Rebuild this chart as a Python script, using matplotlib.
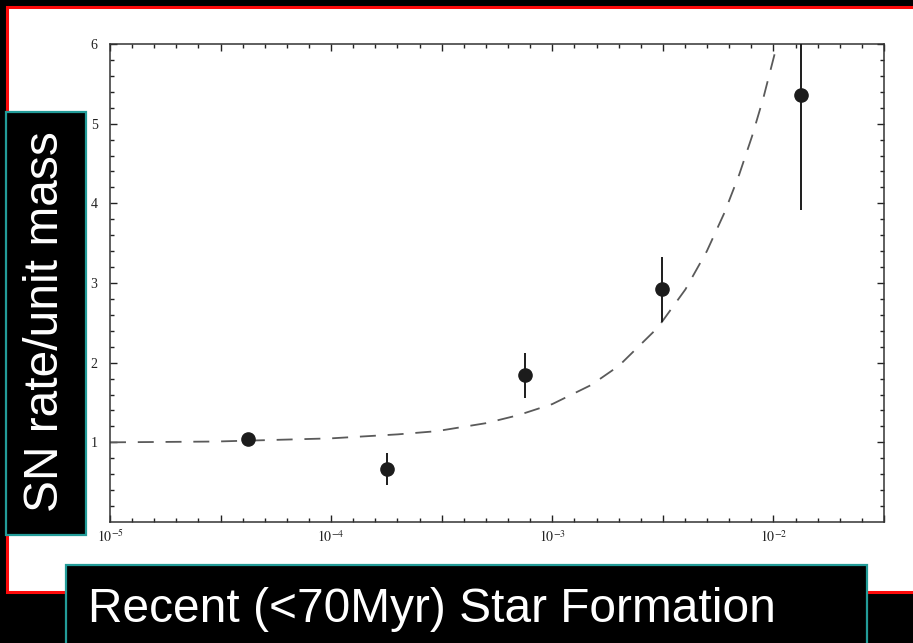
import matplotlib
matplotlib.use("Agg")
import matplotlib.pyplot as plt
import numpy as np
from matplotlib.patches import Rectangle
from matplotlib.ticker import FixedLocator, NullFormatter

W, H = 913, 643

# measured supernova rate per unit mass vs. recent star formation fraction
sf_fraction = [4.2e-5, 1.78e-4, 7.55e-4, 3.15e-3, 1.33e-2]
sn_rate = [1.04, 0.66, 1.84, 2.92, 5.36]
sn_err = [0.05, 0.20, 0.28, 0.41, 1.44]

# model curve, sampled along the dashed line
model_x = [1e-5, 3e-5, 1e-4, 2e-4, 3e-4, 5e-4, 7e-4, 1e-3, 1.5e-3, 2e-3,
           3e-3, 4e-3, 5e-3, 6e-3, 7e-3, 8e-3, 9e-3, 1.04e-2]
model_y = [1.00, 1.01, 1.05, 1.10, 1.14, 1.24, 1.34, 1.48, 1.72, 1.96,
           2.44, 2.92, 3.40, 3.88, 4.36, 4.84, 5.32, 6.00]

y_ticks = [1, 2, 3, 4, 5, 6]
x_ticks = [1e-5, 1e-4, 1e-3, 1e-2]
x_labels = [r"$10^{-5}$", r"$10^{-4}$", r"$10^{-3}$", r"$10^{-2}$"]

ylabel_text = "SN rate/unit mass"
footer_text = "Recent (<70Myr) Star Formation"

plt.rcParams["lines.scale_dashes"] = False
plt.rcParams["mathtext.fontset"] = "stix"

fig = plt.figure(figsize=(W / 100, H / 100), dpi=100, facecolor="black")


def px_box(x0, y0, x1, y1):
    """Pixel box (origin top-left) -> figure-fraction (x, y, w, h)."""
    return x0 / W, 1 - y1 / H, (x1 - x0) / W, (y1 - y0) / H


# white slide area with red frame
bx, by, bw, bh = px_box(6.5, 6.5, 925, 591.5)
fig.add_artist(Rectangle((bx, by), bw, bh, transform=fig.transFigure,
                         facecolor="white", edgecolor="#ff0a0a",
                         linewidth=2.2, zorder=-1))

ax = fig.add_axes(px_box(110, 44, 884, 522))
ax.set_zorder(1)
ax.set_xscale("log")
ax.set_xlim(1e-5, 10 ** -1.5)
ax.set_ylim(0, 6)

ax.plot(model_x, model_y, color="#5a5a5a", linewidth=1.3,
        dashes=(11.5, 8.5), zorder=2)
ax.errorbar(sf_fraction, sn_rate, yerr=sn_err, fmt="o", color="#1c1c1c",
            markersize=9.5, elinewidth=1.4, capsize=0, zorder=3)

# ticks: every 0.1 dex along x, every 0.2 along y, all pointing inward
minor_x = [10 ** (e / 10) for e in range(-50, -14) if e % 5 != 0]
half_x = [10 ** (e / 10) for e in range(-45, -14, 10)]
ax.set_xticks(x_ticks + half_x)
ax.set_xticklabels(x_labels + [""] * len(half_x))
ax.xaxis.set_minor_locator(FixedLocator(minor_x))
ax.xaxis.set_minor_formatter(NullFormatter())

ax.set_yticks(y_ticks)
ax.set_yticklabels([str(v) for v in y_ticks])
ax.yaxis.set_minor_locator(FixedLocator(np.arange(0.2, 6.0, 0.2)))

ax.tick_params(which="both", direction="in", top=True, right=True,
               color="#222222", width=1.0)
ax.tick_params(which="major", length=5)
ax.tick_params(which="minor", length=3)
ax.tick_params(axis="y", pad=9, labelsize=10)
ax.tick_params(axis="x", pad=5, labelsize=10)
for lab in ax.get_xticklabels() + ax.get_yticklabels():
    lab.set_fontfamily("Liberation Serif")
    lab.set_color("#222222")

for sp in ax.spines.values():
    sp.set_color("#333333")
    sp.set_linewidth(1.1)

# rotated title box on the left
lx, ly, lw_, lh = px_box(6, 112, 86, 535)
fig.add_artist(Rectangle((lx, ly), lw_, lh, transform=fig.transFigure,
                         facecolor="black", edgecolor="#239c99",
                         linewidth=1.6, zorder=5))
fig.text(46 / W, 1 - 322 / H, ylabel_text, rotation=90, color="white",
         fontsize=34.5, family="Liberation Sans", ha="center", va="center",
         zorder=6)

# caption box along the bottom
cx, cy, cw, ch = px_box(66, 565, 867, 660)
fig.add_artist(Rectangle((cx, cy), cw, ch, transform=fig.transFigure,
                         facecolor="black", edgecolor="#239c99",
                         linewidth=1.6, zorder=5))
fig.text(88 / W, 1 - 622 / H, footer_text, color="white", fontsize=34.5,
         family="Liberation Sans", ha="left", va="baseline", zorder=6)

fig.savefig("out.png", dpi=100, facecolor="black")
